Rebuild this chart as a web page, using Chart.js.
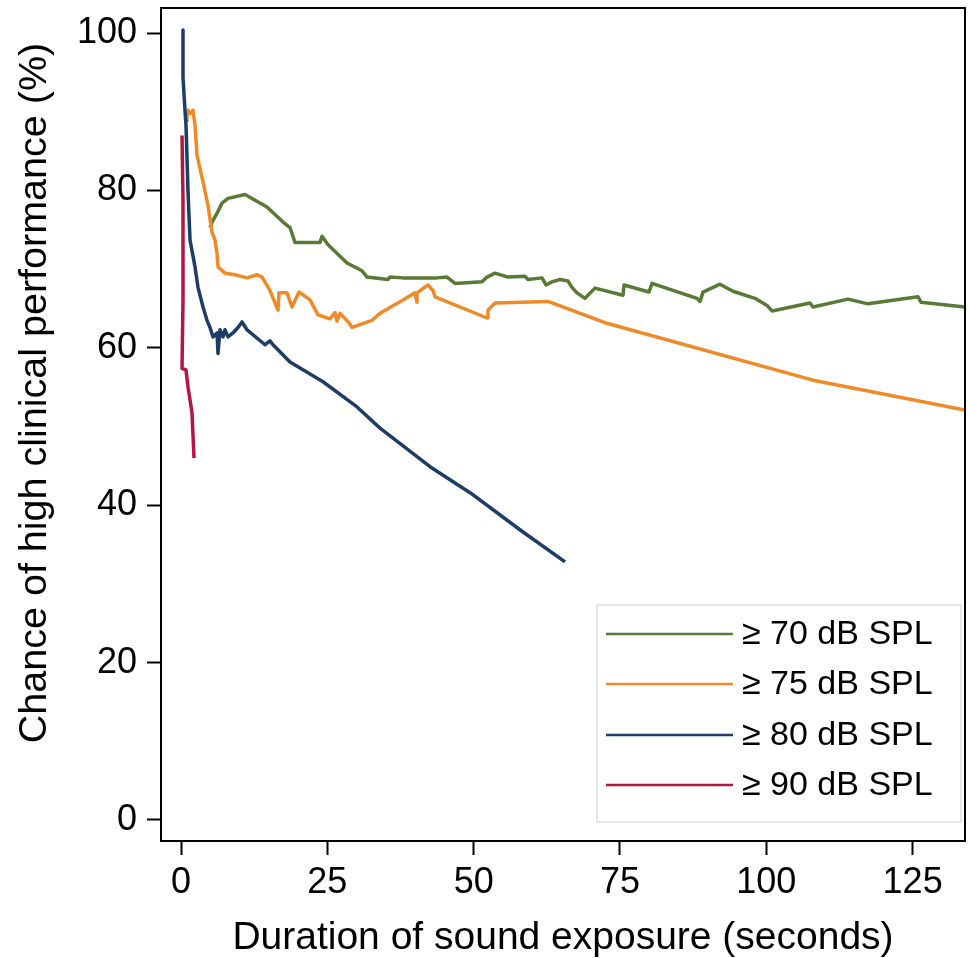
<!DOCTYPE html>
<html>
<head>
<meta charset="utf-8">
<script src="https://cdn.jsdelivr.net/npm/chart.js@4.4.1/dist/chart.umd.min.js"></script>
<style>
  html, body { margin: 0; padding: 0; background: #ffffff; }
  canvas { display: block; }
</style>
</head>
<body>
<canvas id="c" width="969" height="958"></canvas>
<script>
// ---- Data ----
const seriesLabels = ['\u2265 70 dB SPL', '\u2265 75 dB SPL', '\u2265 80 dB SPL', '\u2265 90 dB SPL'];
const seriesColors = ['#587a35', '#f08a28', '#1e3d66', '#b5163f'];

const t70 = [4.95,5.3,6.15,7.0,8.03,10.93,14.69,17.43,18.62,19.48,23.75,24.09,25.12,28.36,30.92,31.78,35.37,35.71,37.93,43.74,45.45,46.81,51.43,52.28,53.65,55.87,58.77,59.29,61.68,62.36,63.39,64.75,66.12,66.8,67.66,69.02,70.73,75.52,75.69,79.96,80.47,88.16,88.67,89.19,92.09,94.31,98.07,100.12,100.97,107.47,107.98,113.96,117.38,125.92,126.43,133.95];
const p70 = [75.3,76.0,77.1,78.4,79.0,79.5,77.9,76.0,75.3,73.4,73.4,74.2,73.1,70.8,69.8,69.0,68.7,69.0,68.9,68.9,69.0,68.2,68.4,69.0,69.5,69.0,69.1,68.7,68.9,68.0,68.4,68.7,68.5,67.7,67.0,66.3,67.6,66.7,68.0,67.1,68.2,66.3,65.9,67.1,68.1,67.2,66.3,65.4,64.7,65.7,65.2,66.2,65.6,66.5,65.8,65.2];

const t75 = [1.03,1.03,1.2,1.54,1.88,2.05,2.39,2.73,3.76,4.61,5.3,5.81,6.15,6.32,7.52,9.23,11.28,12.98,13.84,15.2,16.57,16.74,18.11,18.96,20.16,22.04,23.41,25.46,26.31,26.65,27.17,28.7,29.22,32.63,34.0,37.93,39.98,40.32,40.32,42.2,43.05,43.4,52.28,52.45,53.65,62.7,72.44,107.98,133.95];
const p75 = [88.7,89.8,90.2,89.8,90.0,90.2,88.3,84.5,81.1,78.1,74.7,73.7,72.0,70.3,69.5,69.3,68.9,69.3,69.0,67.3,64.8,67.0,67.0,65.2,67.1,66.1,64.2,63.7,64.5,63.4,64.4,63.2,62.6,63.5,64.4,66.1,67.0,65.8,67.0,68.0,67.3,66.5,63.8,64.8,65.7,65.9,63.2,55.9,52.1];

const t80 = [0.34,0.34,0.68,0.85,1.2,1.54,2.39,2.9,3.76,4.44,4.95,5.47,6.15,6.32,6.66,7.18,7.52,8.03,8.88,9.74,10.42,11.28,14.35,14.69,15.2,15.72,18.62,24.26,30.07,34.0,42.54,49.38,58.43,65.61];
const p80 = [100.4,94.4,90.2,88.3,79.8,73.7,70.3,67.7,65.2,63.5,62.6,61.4,61.9,59.3,62.3,61.4,62.3,61.4,61.9,62.6,63.3,62.3,60.4,60.6,60.9,60.4,58.2,55.7,52.5,49.8,44.9,41.6,36.6,32.8];

const t90 = [0.17,0.34,0.34,0.17,0.85,1.2,1.54,1.88,2.22];
const p90 = [87.0,78.8,66.1,57.4,57.2,55.0,53.4,51.7,46.0];

const xTicks = [0, 25, 50, 75, 100, 125];
const yTicks = [0, 20, 40, 60, 80, 100];

const xTitle = 'Duration of sound exposure (seconds)';
const yTitle = 'Chance of high clinical performance (%)';

// ---- Build chart ----
const FONT = "'Liberation Sans', Arial, Helvetica, sans-serif";
const toPts = (xs, ys) => xs.map((x, i) => ({ x: x, y: ys[i] }));
const allT = [t70, t75, t80, t90];
const allP = [p70, p75, p80, p90];

const datasets = allT.map((t, i) => ({
  label: seriesLabels[i],
  data: toPts(t, allP[i]),
  borderColor: seriesColors[i],
  backgroundColor: seriesColors[i],
  borderWidth: 3.5,
  pointRadius: 0,
  tension: 0,
  fill: false,
  borderJoinStyle: 'round',
  order: 4 - i
}));

const zeroPad = s => { s.paddingTop = 0; s.paddingBottom = 0; s.paddingLeft = 0; s.paddingRight = 0; };

const framePlugin = {
  id: 'frameAndText',
  afterDraw(chart) {
    const ctx = chart.ctx;
    const a = chart.chartArea;
    ctx.save();
    // frame
    ctx.strokeStyle = '#000';
    ctx.lineWidth = 2;
    ctx.strokeRect(a.left, a.top, a.right - a.left, a.bottom - a.top);

    // axis titles
    ctx.fillStyle = '#000';
    ctx.font = '39px ' + FONT;
    ctx.textAlign = 'center';
    ctx.textBaseline = 'middle';
    ctx.fillText(xTitle, (a.left + a.right) / 2, 938);
    ctx.save();
    ctx.translate(35, 393);
    ctx.rotate(-Math.PI / 2);
    ctx.font = '39.5px ' + FONT;
    ctx.fillText(yTitle, 0, 0);
    ctx.restore();

    // legend box
    const lx = 597, ly = 605, lw = 364, lh = 217;
    ctx.strokeStyle = '#dddddd';
    ctx.lineWidth = 1.5;
    ctx.strokeRect(lx, ly, lw, lh);
    const rowY = [634, 684, 735, 785];
    ctx.font = '34px ' + FONT;
    ctx.textAlign = 'left';
    chart.data.datasets.forEach((ds, i) => {
      ctx.strokeStyle = ds.borderColor;
      ctx.lineWidth = 2.5;
      ctx.beginPath();
      ctx.moveTo(606, rowY[i]);
      ctx.lineTo(733, rowY[i]);
      ctx.stroke();
      ctx.fillStyle = '#000';
      ctx.fillText(ds.label, 742, rowY[i] + 1);
    });
    ctx.restore();
  }
};

new Chart(document.getElementById('c'), {
  type: 'line',
  data: { datasets: datasets },
  options: {
    responsive: false,
    animation: false,
    events: [],
    layout: { autoPadding: false, padding: { left: 0, right: 4, top: 8, bottom: 0 } },
    plugins: { legend: { display: false }, tooltip: { enabled: false }, title: { display: false } },
    scales: {
      x: {
        type: 'linear',
        min: -3.42,
        max: 133.95,
        border: { display: true, color: '#000', width: 2 },
        grid: { display: true, drawOnChartArea: false, drawTicks: true, tickLength: 14, tickColor: '#000', tickWidth: 2, color: '#000' },
        ticks: { color: '#000', font: { size: 36, family: FONT }, padding: 6, maxRotation: 0, autoSkip: false },
        afterBuildTicks: s => { s.ticks = xTicks.map(v => ({ value: v })); },
        afterFit: s => { s.height = 117; zeroPad(s); }
      },
      y: {
        type: 'linear',
        min: -2.67,
        max: 103.2,
        border: { display: true, color: '#000', width: 2 },
        grid: { display: true, drawOnChartArea: false, drawTicks: true, tickLength: 14, tickColor: '#000', tickWidth: 2, color: '#000' },
        ticks: { color: '#000', font: { size: 36, family: FONT }, padding: 10, autoSkip: false },
        afterBuildTicks: s => { s.ticks = yTicks.map(v => ({ value: v })); },
        afterFit: s => { s.width = 161; zeroPad(s); }
      }
    }
  },
  plugins: [framePlugin]
});
</script>
</body>
</html>
